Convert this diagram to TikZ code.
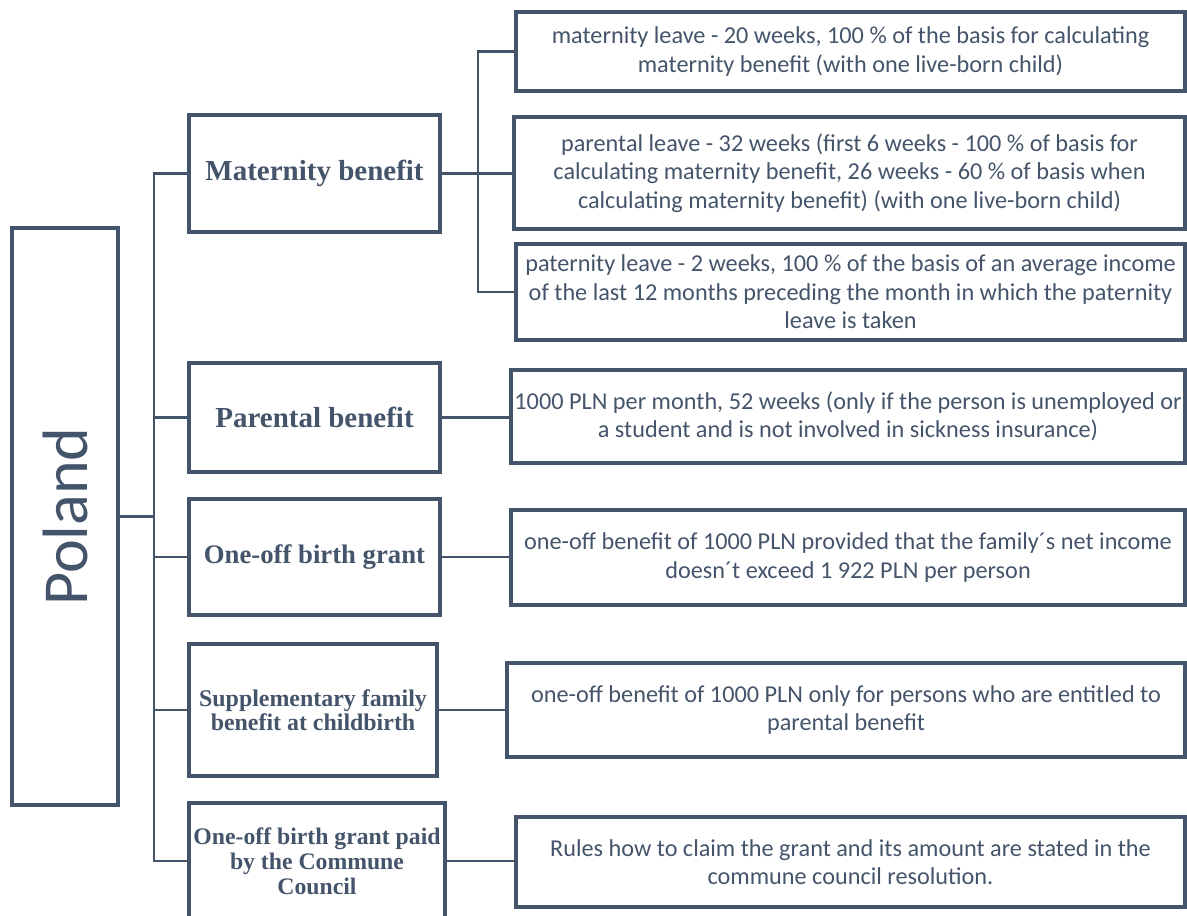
\documentclass[tikz,border=0pt]{standalone}
\usepackage{fontspec}
\setmainfont{Carlito}
\newfontfamily\headfont{Liberation Serif}
\definecolor{slate}{HTML}{44546A}
\tikzset{
  leaf/.style={draw=slate, line width=2.2pt, text=slate, inner sep=0pt, align=center,
    font=\fontsize{13.8}{16.2}\selectfont},
  head/.style={draw=slate, line width=2.2pt, text=slate, inner sep=0pt, align=center,
    font=\headfont\bfseries\fontsize{16.5}{18}\selectfont},
  link/.style={draw=slate, line width=1.6pt}
}
\begin{document}
\begin{tikzpicture}
  \useasboundingbox (0,0) rectangle (23.74,-18.3);
  % root
  \node[draw=slate, line width=2.2pt, text=slate, minimum width=2.12cm, minimum height=11.54cm,
    font=\fontsize{35}{40}\selectfont] (poland) at (1.3,-10.33) {};
  \node[text=slate, rotate=90, font=\fontsize{36.5}{40}\selectfont] at (poland.center) {Poland};
  % benefits
  \node[head, minimum width=5.02cm, minimum height=2.34cm] (matben) at (6.29,-3.47) {Maternity benefit};
  \node[head, minimum width=5.02cm, minimum height=2.18cm] (parben) at (6.29,-8.35) {Parental benefit};
  \node[head, minimum width=5.02cm, minimum height=2.32cm, font=\headfont\bfseries\fontsize{15.2}{18}\selectfont]
    (birthgr) at (6.29,-11.14) {One-off birth grant};
  \node[head, minimum width=4.96cm, minimum height=2.64cm, font=\headfont\bfseries\fontsize{13.6}{14}\selectfont]
    (suppl) at (6.26,-14.2) {Supplementary family\\benefit at childbirth};
  \node[head, minimum width=5.12cm, minimum height=2.32cm, font=\headfont\bfseries\fontsize{13.5}{14.2}\selectfont]
    (commune) at (6.34,-17.22) {One-off birth grant paid\\by the Commune\\Council};
  % details
  \node[leaf, minimum width=13.38cm, minimum height=1.58cm] (matleave) at (17.01,-1.03)
    {maternity leave - 20 weeks, 100 \% of the basis for calculating\\maternity benefit (with one live-born child)};
  \node[leaf, minimum width=13.42cm, minimum height=2.24cm] (parleave) at (16.99,-3.46)
    {parental leave - 32 weeks (first 6 weeks - 100 \% of basis for\\calculating maternity benefit, 26 weeks - 60 \% of basis when\\calculating maternity benefit) (with one live-born child)};
  \node[leaf, minimum width=13.38cm, minimum height=1.92cm] (patleave) at (17.01,-5.84)
    {paternity leave - 2 weeks, 100 \% of the basis of an average income\\of the last 12 months preceding the month in which the paternity\\leave is taken};
  \node[leaf, minimum width=13.48cm, minimum height=1.86cm] (parbendesc) at (16.96,-8.33)
    {1000 PLN per month, 52 weeks (only if the person is unemployed or\\a student and is not involved in sickness insurance)};
  \node[leaf, minimum width=13.48cm, minimum height=1.9cm] (birthgrdesc) at (16.96,-11.15)
    {one-off benefit of 1000 PLN provided that the family´s net income\\doesn´t exceed 1 922 PLN per person};
  \node[leaf, minimum width=13.56cm, minimum height=1.88cm] (suppldesc) at (16.92,-14.2)
    {one-off benefit of 1000 PLN only for persons who are entitled to\\parental benefit};
  \node[leaf, minimum width=13.38cm, minimum height=1.8cm] (communedesc) at (17.01,-17.24)
    {Rules how to claim the grant and its amount are stated in the\\commune council resolution.};
  % connectors
  \coordinate (trunk) at (3.08,0);
  \coordinate (subtrunk) at (9.56,0);
  \draw[link] (matben.west) -| (trunk |- commune.west) -- (commune.west);
  \draw[link] (poland.east) -- (poland.east -| trunk);
  \foreach \n in {parben,birthgr,suppl}
    \draw[link] (\n.west) -- (\n.west -| trunk);
  \draw[link] (matleave.west) -| (subtrunk |- patleave.west) -- (patleave.west);
  \draw[link] (matben.east) -- (matben.east -| parleave.west);
  \draw[link] (parben.east) -- (parben.east -| parbendesc.west);
  \draw[link] (birthgr.east) -- (birthgr.east -| birthgrdesc.west);
  \draw[link] (suppl.east) -- (suppl.east -| suppldesc.west);
  \draw[link] (commune.east) -- (commune.east -| communedesc.west);
\end{tikzpicture}
\end{document}
